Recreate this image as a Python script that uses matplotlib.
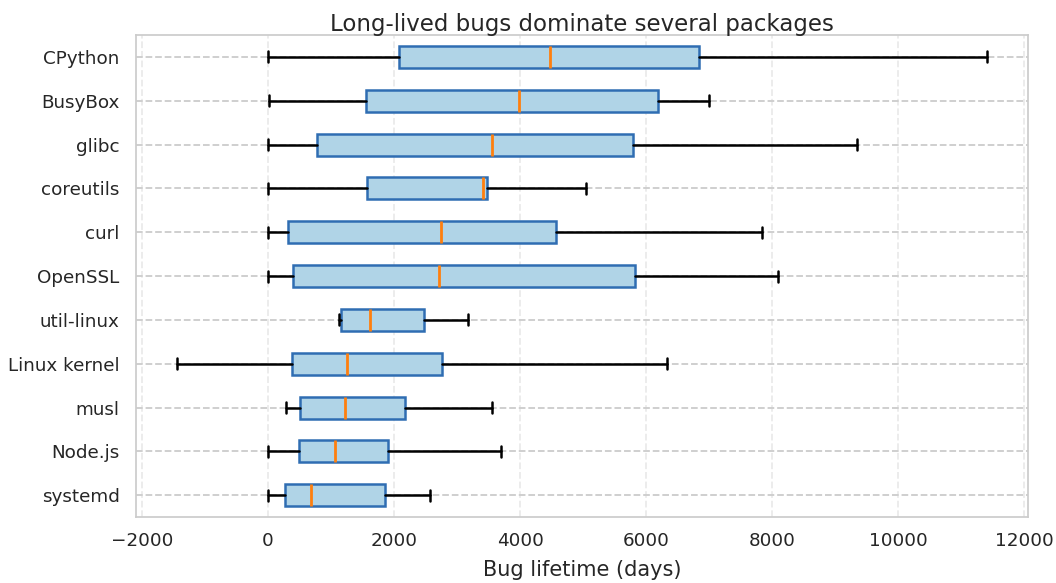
import matplotlib
matplotlib.use("Agg")
import matplotlib.pyplot as plt
import seaborn as sns

# packages, top to bottom as in the chart
packages = ["CPython", "BusyBox", "glibc", "coreutils", "curl", "OpenSSL",
            "util-linux", "Linux kernel", "musl", "Node.js", "systemd"]

# box stats (days)
whislo = [0, 10, 0, 0, 0, 0, 1130, -1446, 285, 0, 0]
q1 = [2075, 1558, 782, 1574, 315, 405, 1157, 375, 507, 486, 265]
med = [4477, 3976, 3548, 3405, 2746, 2714, 1627, 1262, 1220, 1067, 676]
q3 = [6837, 6183, 5792, 3475, 4572, 5828, 2482, 2758, 2176, 1900, 1864]
whishi = [11415, 7000, 9344, 5043, 7840, 8089, 3175, 6325, 3559, 3701, 2577]

sns.set_theme(style="whitegrid")
plt.rcParams["font.family"] = ["DejaVu Sans"]

fig, ax = plt.subplots(figsize=(10.56, 5.83), dpi=100)

stats = []
for i, name in enumerate(packages):
    stats.append(dict(label=name, whislo=whislo[i], q1=q1[i], med=med[i],
                      q3=q3[i], whishi=whishi[i], fliers=[]))

# bottom-to-top order for horizontal boxes
stats = stats[::-1]
ax.bxp(stats, vert=False, widths=0.5, patch_artist=True, showfliers=False,
       boxprops=dict(facecolor="#b0d4e7", edgecolor="#2f6db2", linewidth=1.8),
       medianprops=dict(color="#ff7f0e", linewidth=2),
       whiskerprops=dict(color="black", linewidth=1.8),
       capprops=dict(color="black", linewidth=1.8))

ax.grid(axis="y", linestyle="--", color="#cccccc", linewidth=1.3)
ax.grid(axis="x", linestyle="--", color="#eaeaea", linewidth=1.3)
ax.set_axisbelow(True)

ax.set_title("Long-lived bugs dominate several packages", fontsize=16.5, pad=3)
ax.set_xlabel("Bug lifetime (days)", fontsize=15, labelpad=7)
ax.tick_params(axis="y", labelsize=13.2, pad=6)
ax.tick_params(axis="x", labelsize=13.2, pad=5)

fig.subplots_adjust(left=0.129, right=0.9735, top=0.94, bottom=0.113)
fig.savefig("out.png", dpi=100)
